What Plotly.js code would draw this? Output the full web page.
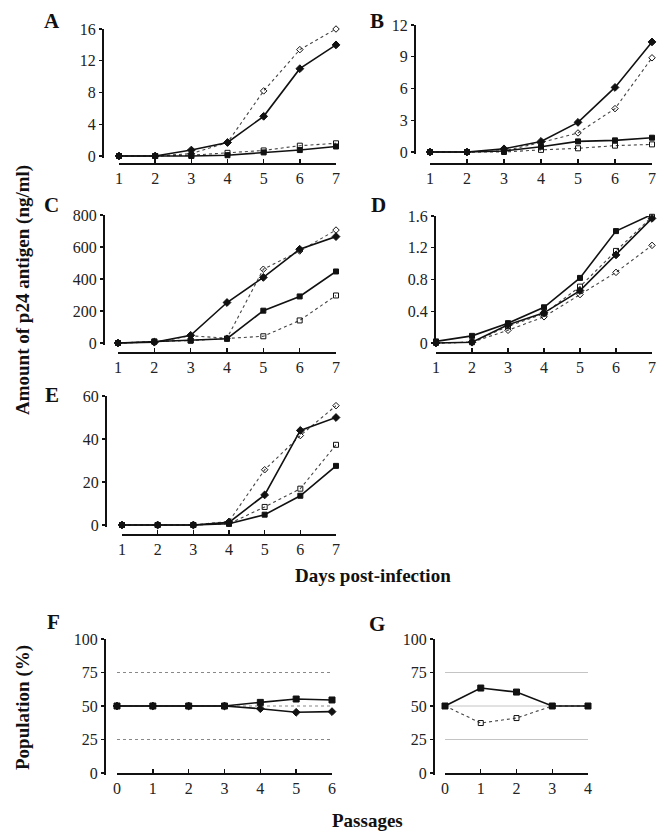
<!DOCTYPE html>
<html>
<head>
<meta charset="utf-8">
<script src="https://cdn.plot.ly/plotly-3.0.1.min.js"></script>
<style>html,body{margin:0;padding:0;background:#fff;}#chart{width:668px;height:832px;}</style>
</head>
<body>
<div id="chart"></div>
<script>
// ---------- DATA ----------
const days = [1, 2, 3, 4, 5, 6, 7];
const passagesF = [0, 1, 2, 3, 4, 5, 6];
const passagesG = [0, 1, 2, 3, 4];

// Panel A
const aFilledDiamond = [0, 0, 0.75, 1.7, 5.0, 11.0, 14.0];
const aOpenDiamond   = [0, 0, 0.3, 1.7, 8.2, 13.4, 16.0];
const aFilledSquare  = [0, 0, 0, 0.1, 0.45, 0.75, 1.2];
const aOpenSquare    = [0, 0, 0.1, 0.4, 0.7, 1.3, 1.6];
// Panel B
const bFilledDiamond = [0, 0, 0.3, 1.0, 2.8, 6.1, 10.4];
const bOpenDiamond   = [0, 0, 0.1, 0.9, 1.8, 4.1, 8.9];
const bFilledSquare  = [0, 0, 0.1, 0.5, 1.0, 1.1, 1.35];
const bOpenSquare    = [0, 0, 0, 0.2, 0.35, 0.6, 0.72];
// Panel C
const cFilledDiamond = [0, 5, 48, 253, 410, 586, 665];
const cOpenDiamond   = [0, 5, 45, 30, 461, 575, 706];
const cFilledSquare  = [0, 8, 15, 27, 202, 291, 447];
const cOpenSquare    = [0, 10, 15, 27, 42, 141, 297];
// Panel D
const dFilledDiamond = [0, 0.01, 0.23, 0.38, 0.66, 1.11, 1.57];
const dOpenDiamond   = [0, 0.01, 0.16, 0.33, 0.61, 0.89, 1.23];
const dFilledSquare  = [0.02, 0.09, 0.25, 0.45, 0.82, 1.41, 1.62];
const dOpenSquare    = [0, 0.01, 0.21, 0.37, 0.71, 1.16, 1.59];
// Panel E
const eFilledDiamond = [0, 0, 0, 1.2, 14, 44, 50];
const eOpenDiamond   = [0, 0, 0, 1.7, 25.7, 41.6, 55.5];
const eFilledSquare  = [0, 0, 0, 0.6, 4.8, 13.6, 27.5];
const eOpenSquare    = [0, 0, 0, 0.6, 8.4, 16.9, 37.3];
// Panel F
const fFilledSquare  = [50, 50, 50, 50, 52.7, 55.2, 54.5];
const fFilledDiamond = [50, 50, 50, 50, 48.0, 45.3, 45.8];
// Panel G
const gFilledSquare  = [50, 63.4, 60.4, 50, 50];
const gOpenSquare    = [50, 37.3, 41.0, 50, 50];

const gridLevels = [25, 50, 75];

const panelLetters = ['A', 'B', 'C', 'D', 'E', 'F', 'G'];
const yTitleTop = 'Amount of p24 antigen (ng/ml)';
const xTitleTop = 'Days post-infection';
const yTitleBottom = 'Population (%)';
const xTitleBottom = 'Passages';

// ---------- LAYOUT GEOMETRY (pixels) ----------
const W = 668, H = 832;
const FONT = 'Liberation Serif, Times New Roman, serif';
const panels = [
  {x0:119, x1:336, yTop:29,  yZero:156, axX:102, axY:163, xr:[1,7], ymax:16,  dt:4},
  {x0:430, x1:652, yTop:25,  yZero:152, axX:414, axY:163, xr:[1,7], ymax:12,  dt:3},
  {x0:118, x1:336, yTop:215, yZero:343, axX:103, axY:352, xr:[1,7], ymax:800, dt:200},
  {x0:436, x1:652, yTop:216, yZero:343, axX:434, axY:352, xr:[1,7], ymax:1.6, dt:0.4},
  {x0:122, x1:336, yTop:396, yZero:525, axX:105, axY:534, xr:[1,7], ymax:60,  dt:20},
  {x0:117, x1:332, yTop:639, yZero:773, axX:104, axY:773, xr:[0,6], ymax:100, dt:25},
  {x0:445, x1:588, yTop:639, yZero:773, axX:433, axY:773, xr:[0,4], ymax:100, dt:25}
];
const letterPos = [[52,21],[377,21],[51,205],[378,205],[52,395],[53,622],[377,624]];

const solid = {color:'#111', width:1.6};
const dotted = {color:'#444', width:1.1, dash:'dot'};
function tr(i, x, y, symbol, line, size){
  const ax = i === 0 ? '' : String(i+1);
  return {
    x: x, y: y, xaxis:'x'+ax, yaxis:'y'+ax, type:'scatter', mode:'lines+markers',
    line: line, cliponaxis:false, hoverinfo:'skip',
    marker:{symbol:symbol, size:size||5, color:'#111', line:{color:'#111', width:1}}
  };
}

const data = [];
const sets = [
  [aFilledDiamond, aOpenDiamond, aFilledSquare, aOpenSquare],
  [bFilledDiamond, bOpenDiamond, bFilledSquare, bOpenSquare],
  [cFilledDiamond, cOpenDiamond, cFilledSquare, cOpenSquare],
  [dFilledDiamond, dOpenDiamond, dFilledSquare, dOpenSquare],
  [eFilledDiamond, eOpenDiamond, eFilledSquare, eOpenSquare]
];
sets.forEach((s, i) => {
  data.push(tr(i, days, s[3], 'square-open', dotted, 5));
  data.push(tr(i, days, s[1], 'diamond-open', dotted, 5));
  data.push(tr(i, days, s[2], 'square', solid, 5));
  data.push(tr(i, days, s[0], 'diamond', solid, 6));
});
data.push(tr(5, passagesF, fFilledDiamond, 'diamond', solid, 6));
data.push(tr(5, passagesF, fFilledSquare, 'square', solid, 6));
data.push(tr(6, passagesG, gOpenSquare, 'square-open', dotted, 5));
data.push(tr(6, passagesG, gFilledSquare, 'square', solid, 6));

const layout = {
  width: W, height: H, autosize:false,
  margin:{l:0, r:0, t:0, b:0},
  paper_bgcolor:'#fff', plot_bgcolor:'rgba(0,0,0,0)',
  showlegend:false,
  font:{family:FONT, color:'#222'},
  annotations:[], shapes:[]
};

panels.forEach((p, i) => {
  const ax = i === 0 ? '' : String(i+1);
  const pad = 0.015 * p.ymax;
  const pxPerUnit = (p.yZero - p.yTop) / p.ymax;
  const yBottomPx = p.yZero + pad * pxPerUnit;
  layout['xaxis'+ax] = {
    domain:[p.x0/W, p.x1/W], range:p.xr, anchor:'free', position: 1 - p.axY/H,
    showgrid:false, zeroline:false, showline:true, linecolor:'#111', linewidth:1.6,
    ticks:'inside', ticklen:4, tickwidth:1.4, tickcolor:'#111', dtick:1, tick0:0,
    tickfont:{family:FONT, size:16, color:'#222'}, ticklabelstandoff:0, fixedrange:true
  };
  layout['yaxis'+ax] = {
    domain:[1 - yBottomPx/H, 1 - p.yTop/H], range:[-pad, p.ymax], anchor:'free', position: p.axX/W,
    showgrid:false, zeroline:false, showline:true, linecolor:'#111', linewidth:1.6,
    ticks:'outside', ticklen:3, tickwidth:1.4, tickcolor:'#111', dtick:p.dt, tick0:0,
    tickfont:{family:FONT, size:16, color:'#222'}, fixedrange:true
  };
  layout.annotations.push({
    xref:'paper', yref:'paper', x: letterPos[i][0]/W, y: 1 - letterPos[i][1]/H,
    text:'<b>'+panelLetters[i]+'</b>', showarrow:false, xanchor:'center', yanchor:'middle',
    font:{family:FONT, size:21, color:'#111'}
  });
});

// reference gridlines in F and G
[5, 6].forEach(i => {
  const ax = String(i+1);
  gridLevels.forEach(v => {
    layout.shapes.push({
      type:'line', xref:'x'+ax+' domain', yref:'y'+ax, x0:0, x1:1, y0:v, y1:v,
      line:{color: i === 5 ? '#888' : '#c4c4c4', width:1, dash: i === 5 ? 'dot' : 'solid'}, layer:'below'
    });
  });
});

// axis titles
layout.annotations.push(
  {xref:'paper', yref:'paper', x:23/W, y:1-290/H, text:'<b>'+yTitleTop+'</b>', textangle:-90,
   showarrow:false, xanchor:'center', yanchor:'middle', font:{family:FONT, size:19, color:'#111'}},
  {xref:'paper', yref:'paper', x:293/W, y:1-575/H, text:'<b>'+xTitleTop+'</b>',
   showarrow:false, xanchor:'left', yanchor:'middle', font:{family:FONT, size:19, color:'#111'}},
  {xref:'paper', yref:'paper', x:23/W, y:1-708/H, text:'<b>'+yTitleBottom+'</b>', textangle:-90,
   showarrow:false, xanchor:'center', yanchor:'middle', font:{family:FONT, size:19, color:'#111'}},
  {xref:'paper', yref:'paper', x:330/W, y:1-820/H, text:'<b>'+xTitleBottom+'</b>',
   showarrow:false, xanchor:'left', yanchor:'middle', font:{family:FONT, size:19, color:'#111'}}
);

Plotly.newPlot('chart', data, layout, {staticPlot:true, displayModeBar:false});
</script>
</body>
</html>
